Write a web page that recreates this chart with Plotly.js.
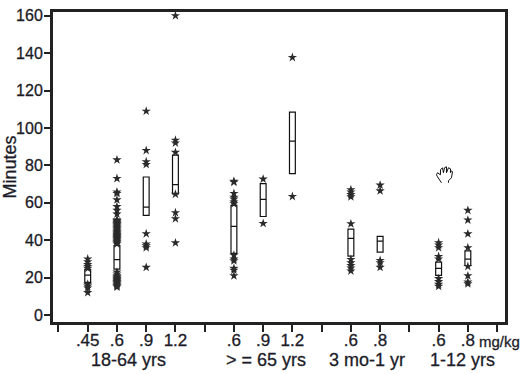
<!DOCTYPE html>
<html><head><meta charset="utf-8">
<script src="https://cdn.plot.ly/plotly-3.0.1.min.js"></script>
<style>html,body{margin:0;padding:0;background:#fff}
#chart text{stroke:#1c1c28;stroke-width:.3px}</style></head>
<body><div id="chart" style="width:527px;height:374px"></div>
<script>
const positions=[1,2,3,4,6,7,8,10,11,13,14];
const doseLabels=[".45",".6",".9","1.2",".6",".9","1.2",".6",".8",".6",".8"];
const blankTicks=[0,5,9,12,15];
const q1=[17.5,24.6,53.3,64.8,33,52.7,75.6,31.5,33.6,21.2,26.5];
const medians=[21.4,29.6,57.7,69.7,47.4,61.8,93,41,39.5,25,29.9];
const q3=[24.4,37.2,73.8,85.5,58.6,70.3,108.5,45.9,42.1,28.3,34.3];
const outliers=[
 [30,28.5,27,26,25,16.5,15.5,14.5,12],
 [83,73,65.8,65,61.6,58,56,54,51,50.5,50,49.5,49,48.5,48,47.5,47,46.5,46,45.5,45,44.5,44,43.5,43,42.5,42,41.5,41,40.5,40,39.5,39,38.5,38,23,22,21,20.5,20,19.5,19,18.5,18,17.5,17,16.5,16,15.5,15],
 [109,88,82,80.5,43.5,38,37,36,25.5],
 [160,93.5,92,87,64.6,54.7,51.5,38.6],
 [71.5,71,65,63,62,60.5,59.5,32,30,29,25,24,21],
 [72.7,49],
 [137.7,63.4],
 [67,65.8,64.4,63.2,48.8,29.7,28,26.5,25.2,23.6],
 [69.5,66.4,29.2,28,25.5],
 [38.7,37.5,36,31.3,30,19.5,17.9,16.5,15.4],
 [56,50.8,43.4,36,26,21,17.7,16.7]
];
const groupCenters=[2.4,7.1,10.55,13.8];
const groupLabels=["18-64 yrs","> = 65 yrs","3 mo-1 yr","1-12 yrs"];
const ink="#1c1c28";
const starX=[],starY=[];
outliers.forEach((list,i)=>list.forEach(v=>{starX.push(positions[i]);starY.push(v);}));
const traces=[
 {type:"scatter",mode:"markers",x:starX,y:starY,cliponaxis:false,
  marker:{symbol:"star",size:7,color:"#2a2a2a",line:{width:0}},showlegend:false},
 {type:"box",x:positions,q1:q1,median:medians,q3:q3,lowerfence:q1,upperfence:q3,
  width:0.2,whiskerwidth:0,fillcolor:"#fff",line:{color:"#111",width:1.2},
  boxpoints:false,showlegend:false}
];
const layout={
 width:527,height:374,margin:{l:53,r:22,t:12,b:52},paper_bgcolor:"#fff",plot_bgcolor:"#fff",
 font:{family:"Liberation Sans, Arial, sans-serif",color:ink,size:16},
 showlegend:false,
 xaxis:{range:[-0.187,15.27],tickmode:"array",
  tickvals:positions.concat(blankTicks),ticktext:doseLabels.concat(blankTicks.map(()=>"")),
  ticks:"outside",ticklen:7,tickwidth:2,tickcolor:"#222",showline:true,mirror:true,linewidth:3,linecolor:"#222",
  ticklabelstandoff:-6,
  showgrid:false,zeroline:false,tickfont:{size:17,color:ink}},
 yaxis:{range:[-3.7,162],tickmode:"array",tickvals:[0,20,40,60,80,100,120,140,160],
  ticks:"outside",ticklen:6,tickwidth:2,tickcolor:"#222",showline:true,mirror:true,linewidth:3,linecolor:"#222",
  ticklabelstandoff:-2,
  showgrid:false,zeroline:false,tickfont:{size:16,color:ink},
  title:{text:"Minutes",font:{size:18,color:ink},standoff:6}},
 annotations:groupLabels.map((t,i)=>({text:t,x:groupCenters[i],xref:"x",y:-0.085,yref:"paper",yanchor:"top",showarrow:false,font:{size:18,color:ink}}))
  .concat([
   {text:"mg/kg",x:14.3,xref:"x",xanchor:"left",y:-0.03,yref:"paper",yanchor:"top",showarrow:false,font:{size:15,color:ink}}
  ]),
 shapes:[{type:"path",xsizemode:"pixel",ysizemode:"pixel",xref:"x",yref:"y",xanchor:13.2,yanchor:75,
  path:"M-3,-8 L-7,-2 L-8,0 L-7,2 L-4,0 L-4,5 L-2,7 L-1,2 L0,7 L2,8 L2,2 L4,7 L6,6 L6,2 L7,4 L8,3 L7,-3 L4,-6 L4,-8",
  line:{color:"#111",width:1},fillcolor:"rgba(0,0,0,0)"}]
};
Plotly.newPlot("chart",traces,layout,{displayModeBar:false,staticPlot:true});
</script></body></html>
